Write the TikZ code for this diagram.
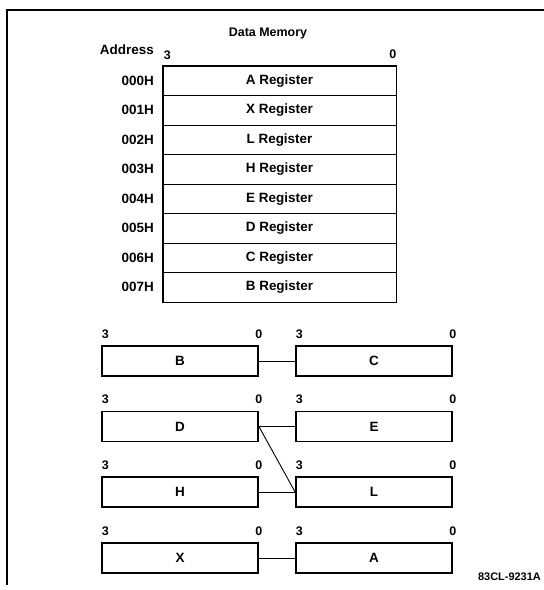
\documentclass[tikz,border=0pt]{standalone}
\usepackage{fontspec}
\setmainfont{Liberation Sans}
\begin{document}
\begin{tikzpicture}[x=1bp,y=-1bp,
  txt/.style={font=\bfseries\fontsize{13.5}{15}\selectfont, inner sep=0pt},
  bit/.style={font=\bfseries\fontsize{12.5}{14}\selectfont, inner sep=0pt},
  memrow/.style={draw, line width=0.9pt, minimum width=233bp, minimum height=29.5bp, inner sep=0pt, font=\bfseries\fontsize{13.5}{15}\selectfont},
  regbox/.style={draw, line width=1.8pt, minimum width=156bp, minimum height=30bp, inner sep=0pt, font=\bfseries\fontsize{13.5}{15}\selectfont},
  link/.style={line width=0.9pt},
  frame/.style={line width=1.3pt}]
\useasboundingbox (0,0) rectangle (544,590);
% frame
\coordinate (fb) at (7,585);
\coordinate (fc) at (7,10);
\coordinate (fr) at (544,10);
\draw[frame] (fb) -- (fc) -- (fr);
% title
\node[txt, font=\bfseries\fontsize{12.5}{15}\selectfont] (title) at (268,34) {Data Memory};
\node[txt, anchor=base east] (addr) at (154,55) {Address};
% memory rows
\foreach \i/\t/\a in {0/A/000H,1/X/001H,2/L/002H,3/H/003H,4/E/004H,5/D/005H,6/C/006H,7/B/007H}{
  \node[memrow] (m\i) at (279.5,{66+29.5*(\i+0.5)}) {\t\ Register};
  \node[txt, anchor=east] (a\i) at (154,{66+29.5*(\i+0.5)}) {\a};
}
\draw[line width=1.8pt] (m0.north west) rectangle (m7.south east);
\node[bit, anchor=south west] (mb3) at ([xshift=1bp,yshift=6bp]m0.north west) {3};
\node[bit, anchor=south east] (mb0) at ([xshift=0bp,yshift=7bp]m0.north east) {0};
% registers
\node[regbox] (B) at (180,361) {B};
\node[regbox] (C) at (374,361) {C};
\node[regbox] (D) at (180,426.5) {D};
\node[regbox] (E) at (374,426.5) {E};
\node[regbox] (H) at (180,492) {H};
\node[regbox] (L) at (374,492) {L};
\node[regbox] (X) at (180,558) {X};
\node[regbox] (A) at (374,558) {A};
\foreach \r in {B,C,D,E,H,L,X,A}{
  \node[bit, anchor=south west] (\r3) at ([xshift=0.5bp,yshift=6.5bp]\r.north west) {3};
  \node[bit, anchor=south] (\r0) at ([yshift=6.5bp]\r.north east) {0};
}
% connectors
\draw[link] (B.east) -- (C.west);
\draw[link] (D.east) -- (E.west);
\draw[link] (D.east) -- (L.west);
\draw[link] (H.east) -- (L.west);
\draw[link] (X.east) -- (A.west);
% figure id
\node[font=\bfseries\fontsize{11}{13}\selectfont, inner sep=0pt, anchor=east] (fig) at (541,577) {83CL-9231A};
\end{tikzpicture}
\end{document}
